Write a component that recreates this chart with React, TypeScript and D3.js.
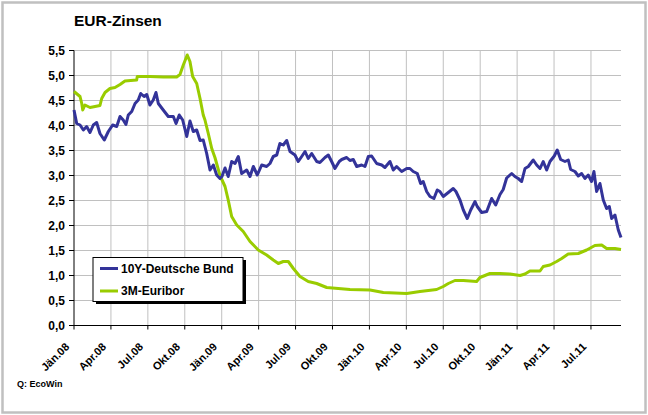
import React from "react";
import * as d3 from "d3";

// x = months since Jan 2008
const bundT = [0,0.22,0.49,0.76,1.03,1.30,1.57,1.84,2.11,2.46,2.79,3.14,3.47,3.74,4.00,4.22,4.41,4.69,4.96,5.22,5.42,5.69,5.91,6.17,6.44,6.66,6.85,7.25,7.66,8.07,8.29,8.55,8.83,9.16,9.42,9.69,9.97,10.24,10.50,10.78,11.05,11.32,11.59,11.86,12.02,12.27,12.53,12.81,13.08,13.35,13.62,14.03,14.30,14.57,14.89,15.25,15.65,15.92,16.19,16.47,16.73,17.00,17.28,17.55,17.95,18.22,18.50,18.77,19.03,19.31,19.72,19.98,20.39,20.66,20.93,21.20,21.55,21.75,22.15,22.42,22.69,22.97,23.37,23.64,23.91,24.18,24.59,25.00,25.26,25.67,25.94,26.21,26.62,27.03,27.29,27.56,27.89,28.16,28.37,28.65,28.92,29.24,29.51,29.73,30.00,30.41,30.81,31.03,31.36,31.63,31.95,32.23,32.58,32.76,33.12,33.53,33.93,34.26,34.61,34.87,35.15,35.56,35.82,36.09,36.37,36.64,36.91,37.31,37.59,37.86,38.12,38.40,38.67,39.02,39.26,39.54,39.89,40.16,40.35,40.70,40.97,41.24,41.51,41.78,42.05,42.24,42.46,42.73,43.00,43.27,43.49,43.68,43.95,44.22,44.44];
const bundV = [4.31,4.04,4.01,3.91,3.98,3.86,4.01,4.06,3.84,3.71,3.88,4.01,3.98,4.18,4.11,4.02,4.21,4.28,4.44,4.51,4.64,4.58,4.62,4.41,4.51,4.66,4.44,4.31,4.18,4.18,4.04,4.21,4.11,3.78,4.09,3.88,3.91,3.70,3.71,3.44,3.11,3.21,3.01,2.94,2.98,3.15,2.98,3.28,3.24,3.38,3.04,3.11,2.98,3.18,3.01,3.21,3.18,3.24,3.38,3.41,3.64,3.61,3.70,3.48,3.41,3.28,3.38,3.48,3.34,3.44,3.28,3.26,3.36,3.41,3.28,3.14,3.28,3.32,3.36,3.30,3.32,3.18,3.21,3.18,3.38,3.39,3.24,3.21,3.16,3.28,3.11,3.18,3.08,3.14,3.14,3.08,3.04,2.84,2.88,2.68,2.58,2.54,2.71,2.68,2.58,2.66,2.74,2.68,2.51,2.31,2.14,2.31,2.48,2.38,2.26,2.28,2.54,2.41,2.62,2.72,2.95,3.04,2.98,2.94,2.88,3.14,3.18,3.31,3.21,3.14,3.28,3.11,3.28,3.39,3.51,3.32,3.28,3.31,3.12,3.08,2.99,3.04,2.94,3.01,2.88,3.08,2.68,2.84,2.51,2.34,2.38,2.14,2.21,1.91,1.76];

const euriborT = [0,0.49,0.63,0.71,0.89,1.30,1.71,2.11,2.25,2.52,2.92,3.33,3.74,4.14,5.09,5.14,6.17,7.25,8.34,8.61,8.88,9.20,9.42,9.64,9.97,10.24,10.50,10.64,10.91,11.19,11.45,11.86,12.27,12.53,12.81,13.22,13.75,14.30,14.97,15.65,16.19,16.60,17.00,17.41,17.82,18.36,19.03,19.72,20.53,21.47,22.42,24.05,25.13,27.03,28.11,29.46,30.00,30.41,30.95,31.63,32.71,32.98,33.79,34.61,35.42,36.24,36.64,37.04,37.86,38.12,38.67,39.21,39.62,40.15,40.97,41.65,42.32,42.87,43.27,43.95,44.44];
const euriborV = [4.68,4.58,4.44,4.31,4.41,4.36,4.38,4.40,4.54,4.66,4.74,4.76,4.82,4.89,4.91,4.98,4.98,4.97,4.97,5.02,5.21,5.41,5.28,4.98,4.84,4.54,4.21,4.11,3.84,3.54,3.36,3.00,2.78,2.51,2.18,2.01,1.88,1.68,1.51,1.41,1.31,1.24,1.28,1.28,1.14,0.98,0.88,0.84,0.76,0.74,0.72,0.71,0.66,0.64,0.68,0.72,0.78,0.84,0.90,0.90,0.88,0.96,1.04,1.04,1.03,1.00,1.03,1.09,1.09,1.18,1.21,1.28,1.34,1.43,1.44,1.51,1.60,1.61,1.54,1.54,1.52];

const xTickMonths = [0,3,6,9,12,15,18,21,24,27,30,33,36,39,42];
const xTickLabels = ["Jän.08","Apr.08","Jul.08","Okt.08","Jän.09","Apr.09","Jul.09","Okt.09","Jän.10","Apr.10","Jul.10","Okt.10","Jän.11","Apr.11","Jul.11"];
const yTicks = [0,0.5,1,1.5,2,2.5,3,3.5,4,4.5,5,5.5];
const seriesNames = ["10Y-Deutsche Bund","3M-Euribor"];
const seriesColors = ["#333399","#99CC00"];

const W = 648, H = 415;
const left = 74, right = 621, top = 50.5, bottom = 325.5;
const font = "Arial, 'Liberation Sans', sans-serif";

export default function App() {
  const x = d3.scaleLinear().domain([0, 44.44]).range([left, right]);
  const y = d3.scaleLinear().domain([0, 5.5]).range([bottom, top]);
  const line = d3.line<[number, number]>().x(d => x(d[0])).y(d => y(d[1]));
  const bund = line(bundT.map((t, i) => [t, bundV[i]] as [number, number])) || "";
  const eur = line(euriborT.map((t, i) => [t, euriborV[i]] as [number, number])) || "";
  const fmt = (v: number) => v.toFixed(1).replace(".", ",");

  return (
    <svg width={W} height={H} style={{ position: "absolute", left: 0, top: 0, background: "#fff" }} fontFamily={font}>
      <rect x={2.5} y={2.5} width={643} height={410} fill="#fff" stroke="#c0c0c0" strokeWidth={2.5} />
      <text x={74} y={26} fontSize={15.5} fontWeight="bold" fill="#000">EUR-Zinsen</text>
      {/* grid */}
      {yTicks.filter(v => v > 0).map(v => (
        <line key={"gy" + v} x1={left} x2={right} y1={y(v)} y2={y(v)} stroke="#c0c0c0" strokeWidth={1} />
      ))}
      {xTickMonths.filter(m => m > 0).map(m => (
        <line key={"gx" + m} x1={x(m)} x2={x(m)} y1={top} y2={bottom} stroke="#c0c0c0" strokeWidth={1} />
      ))}
      {/* axes */}
      <line x1={left} x2={left} y1={top} y2={bottom} stroke="#000" strokeWidth={1} />
      <line x1={left} x2={right} y1={bottom} y2={bottom} stroke="#000" strokeWidth={1} />
      {yTicks.map(v => (
        <g key={"ty" + v}>
          <line x1={left - 5} x2={left} y1={y(v)} y2={y(v)} stroke="#000" />
          <text x={left - 9} y={y(v) + 4} textAnchor="end" fontSize={12} fontWeight="bold">{fmt(v)}</text>
        </g>
      ))}
      {xTickMonths.map((m, i) => (
        <g key={"tx" + m}>
          <line x1={x(m)} x2={x(m)} y1={bottom} y2={bottom + 4} stroke="#000" />
          <text transform={`translate(${x(m) - 4},${bottom + 22}) rotate(-45)`} textAnchor="end" fontSize={11} fontWeight="bold">{xTickLabels[i]}</text>
        </g>
      ))}
      {/* lines */}
      <path d={eur} fill="none" stroke={seriesColors[1]} strokeWidth={3} strokeLinejoin="round" />
      <path d={bund} fill="none" stroke={seriesColors[0]} strokeWidth={3} strokeLinejoin="round" />
      {/* legend */}
      <rect x={96} y={260} width={150} height={44} fill="#000" />
      <rect x={93} y={257.5} width={150} height={44} fill="#fff" stroke="#000" strokeWidth={1} />
      {seriesNames.map((n, i) => (
        <g key={n}>
          <line x1={100} x2={118} y1={268.5 + i * 22.5} y2={268.5 + i * 22.5} stroke={seriesColors[i]} strokeWidth={3} />
          <text x={121} y={272.5 + i * 22.5} fontSize={12} fontWeight="bold">{n}</text>
        </g>
      ))}
      <text x={17} y={387} fontSize={9} fontWeight="bold">Q: EcoWin</text>
    </svg>
  );
}
